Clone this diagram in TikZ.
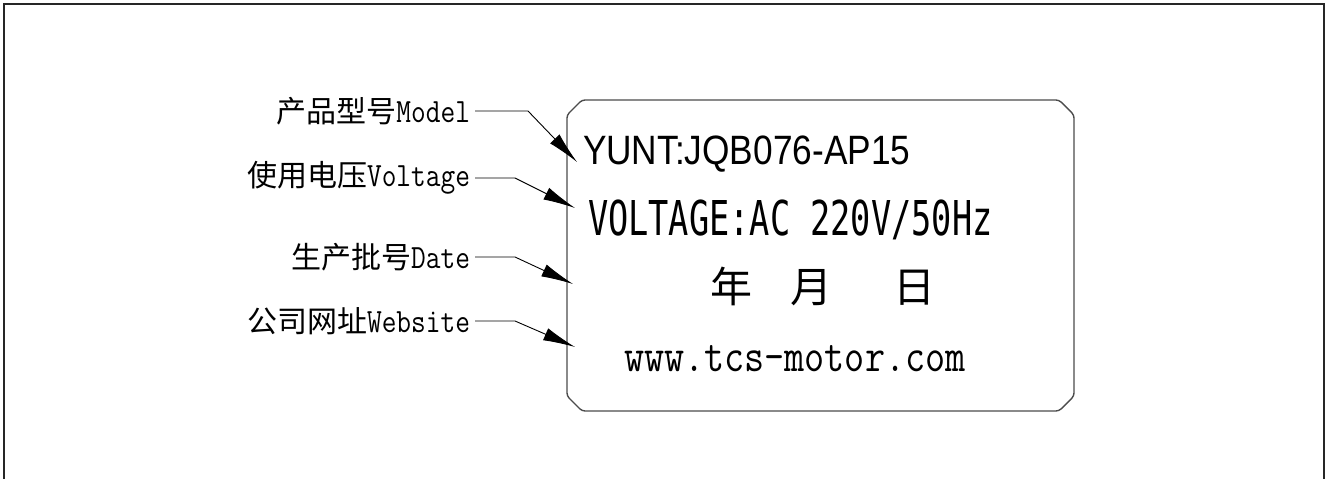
\documentclass[tikz,border=0pt]{standalone}
\usepackage{fontspec}
\usetikzlibrary{arrows.meta}
\newfontfamily\cjk{Noto Sans CJK SC}
\newfontfamily\monosans{DejaVu Sans Mono}
\newfontfamily\arialf{Liberation Sans}
\newcommand{\lat}[1]{{\ttfamily\fontsize{34}{34}\selectfont\scalebox{0.84}[1]{#1}}}
\tikzset{
  lbl/.style={anchor=east, inner sep=0pt, outer sep=0pt, font=\fontsize{30}{30}\selectfont},
  leader/.style={line width=0.9pt, black, shorten <=5pt, -{Latex[length=32pt,width=13pt]}},
  plate/.style={line width=1.4pt, black!70, rounded corners=3pt},
  frame/.style={line width=2pt, black!85},
  ptext/.style={inner sep=0pt, outer sep=0pt}
}
\begin{document}
\begin{tikzpicture}[x=1pt,y=-1pt]
\useasboundingbox (0,0) rectangle (1328,479);
% outer frame (bottom edge falls outside the picture)
\draw[frame] (4,485) -- (4,4) -- (1324,4) -- (1324,485);
% name plate
\draw[plate] (567,115) -- (582,100) -- (1059,100) -- (1074,115) -- (1074,396) -- (1059,411) -- (582,411) -- (567,396) -- cycle;
% plate texts
\node[ptext, anchor=base west] (model) at (583,164)
  {\arialf\fontsize{41}{41}\selectfont\scalebox{0.86}[1]{YUNT:JQB076-AP15}};
\node[ptext, anchor=base west] (volt) at (588,235)
  {\monosans\fontsize{48}{48}\selectfont\scalebox{0.70}[1]{VOLTAGE:AC 220V/50Hz}};
\node[ptext, anchor=west] (date) at (710,286)
  {\cjk\fontsize{42}{42}\selectfont 年\hspace{39pt}月\hspace{61pt}日};
\node[ptext, anchor=base west] (web) at (624,371)
  {\ttfamily\fontsize{47}{47}\selectfont\scalebox{0.83}[1]{www.tcs-motor.com}};
% left labels
\node[lbl] (l1) at (470,111) {{\cjk 产品型号}\lat{Model}};
\node[lbl] (l2) at (470,178) {{\cjk 使用电压}\lat{Voltage}};
\node[lbl] (l3) at (470,257) {{\cjk 生产批号}\lat{Date}};
\node[lbl] (l4) at (470,321) {{\cjk 公司网址}\lat{Website}};
% bends and tips
\coordinate (b1) at (528,111); \coordinate (t1) at (577,162);
\coordinate (b2) at (515,178); \coordinate (t2) at (575,208);
\coordinate (b3) at (515,257); \coordinate (t3) at (573,284);
\coordinate (b4) at (515,321); \coordinate (t4) at (575,347);
\draw[leader] (l1.east) -- (b1) -- (t1);
\draw[leader] (l2.east) -- (b2) -- (t2);
\draw[leader] (l3.east) -- (b3) -- (t3);
\draw[leader] (l4.east) -- (b4) -- (t4);
\end{tikzpicture}
\end{document}
